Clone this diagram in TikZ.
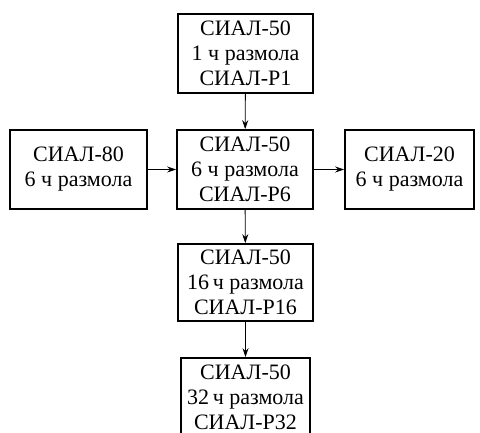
\documentclass[tikz,border=0pt]{standalone}
\usepackage{fontspec}
\setmainfont{Liberation Serif}
\usetikzlibrary{arrows.meta}
\begin{document}
\begin{tikzpicture}[x=1pt,y=-1pt,
  box/.style={draw,line width=1.6pt,inner sep=0pt,align=center,
    font=\fontsize{22}{25}\selectfont},
  arr/.style={line width=0.9pt,-{Stealth[length=9pt,width=6pt]}}]
\useasboundingbox (0,0) rectangle (480,433);
\clip (0,0) rectangle (480,433);
\node[box,minimum width=135pt,minimum height=79pt] (top) at (245.5,53.5) {СИАЛ-50\\1 ч размола\\СИАЛ-Р1};
\node[box,minimum width=136pt,minimum height=79pt] (mid) at (245,169.5) {СИАЛ-50\\6 ч размола\\СИАЛ-Р6};
\node[box,minimum width=137pt,minimum height=79pt] (left) at (78.5,169.5) {СИАЛ-80\\6 ч размола};
\node[box,minimum width=129pt,minimum height=79pt] (right) at (409.5,169.5) {СИАЛ-20\\6 ч размола};
\node[box,minimum width=135pt,minimum height=77pt] (b16) at (245.5,282.5) {СИАЛ-50\\16\,ч размола\\СИАЛ-Р16};
\node[box,minimum width=129pt,minimum height=79pt] (b32) at (245.5,397.5) {СИАЛ-50\\32\,ч размола\\СИАЛ-Р32};
\draw[arr] (top) -- (mid);
\draw[arr] (left) -- (mid);
\draw[arr] (mid) -- (right);
\draw[arr] (mid) -- (b16);
\draw[arr] (b16) -- (b32);
\end{tikzpicture}
\end{document}
